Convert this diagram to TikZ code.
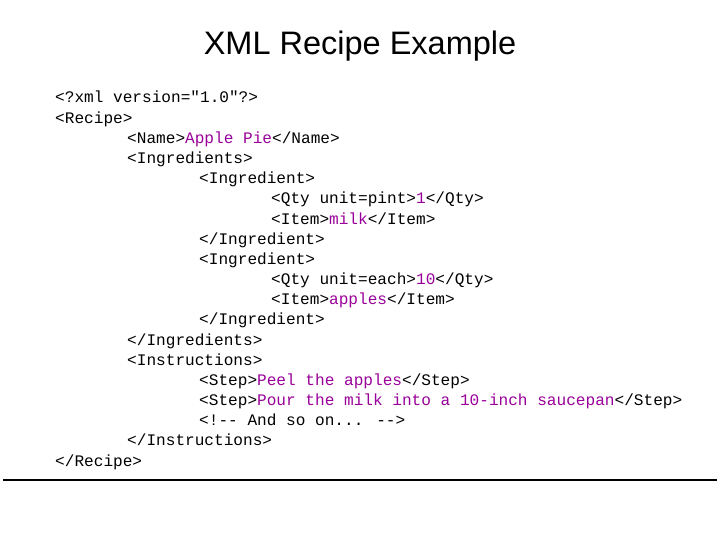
\documentclass[tikz,border=0pt]{standalone}
\usepackage{fontspec}
\setmainfont{Liberation Sans}
\newfontfamily\codefont{Liberation Mono}
\definecolor{val}{HTML}{990099}
\newcommand{\vv}[1]{\textcolor{val}{#1}}
\begin{document}
\begin{tikzpicture}[x=1pt,y=-1pt,
  code/.style={anchor=base west,inner sep=0pt,font=\codefont\fontsize{16.1}{18}\selectfont},
  title/.style={font=\fontsize{32.5}{36}\selectfont,inner sep=0pt}]
\useasboundingbox (0,0) rectangle (720,540);
\fill[white] (0,0) rectangle (720,540);
\node[title] (t) at (360,46) {XML Recipe Example};
\def\L#1#2#3#4{\node[code] (#1) at (#2,{98+5+20.17*(#3)}) {#4};}
\L{l1}{55}{0}{<?xml version="1.0"?>}
\L{l2}{55}{1}{<Recipe>}
\L{l3}{127}{2}{<Name>\vv{Apple Pie}</Name>}
\L{l4}{127}{3}{<Ingredients>}
\L{l5}{199}{4}{<Ingredient>}
\L{l6}{271}{5}{<Qty unit=pint>\vv{1}</Qty>}
\L{l7}{271}{6}{<Item>\vv{milk}</Item>}
\L{l8}{199}{7}{</Ingredient>}
\L{l9}{199}{8}{<Ingredient>}
\L{l10}{271}{9}{<Qty unit=each>\vv{10}</Qty>}
\L{l11}{271}{10}{<Item>\vv{apples}</Item>}
\L{l12}{199}{11}{</Ingredient>}
\L{l13}{127}{12}{</Ingredients>}
\L{l14}{127}{13}{<Instructions>}
\L{l15}{199}{14}{<Step>\vv{Peel the apples}</Step>}
\L{l16}{199}{15}{<Step>\vv{Pour the milk into a 10-inch saucepan}</Step>}
\L{l17}{199}{16}{<!-{}- And so on... -{}->}
\L{l18}{127}{17}{</Instructions>}
\L{l19}{55}{18}{</Recipe>}
\coordinate (r1) at (3,480);
\coordinate (r2) at (717,480);
\draw[line width=2pt] (r1) -- (r2);
\end{tikzpicture}
\end{document}
